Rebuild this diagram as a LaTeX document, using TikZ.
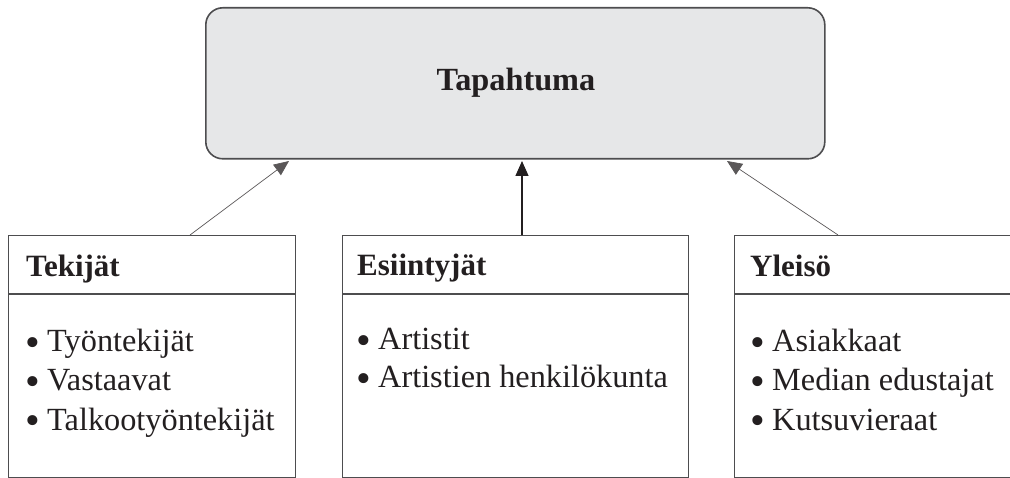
\documentclass[tikz,border=0pt]{standalone}
\usepackage{fontspec}
\setmainfont{Liberation Serif}
\usetikzlibrary{arrows.meta}
\definecolor{ink}{HTML}{231F20}
\definecolor{panel}{HTML}{E6E7E8}
\definecolor{rim}{HTML}{4D4D4F}
% enlarged list bullet followed by the gap before the item text
\newcommand\itemdot{\makebox[22pt][l]{\smash{\raisebox{-4.5pt}{\fontsize{42}{42}\selectfont •}}}}
\begin{document}
\begin{tikzpicture}[x=1pt,y=-1pt,
  eventbox/.style={draw=rim,line width=1.6pt,fill=panel,rounded corners=17pt,
    minimum width=619pt,minimum height=151pt,anchor=north west,inner sep=0pt},
  groupbox/.style={draw=rim,line width=1.3pt,anchor=north west,inner sep=0pt,
    minimum height=242pt},
  headtxt/.style={anchor=base west,inner sep=0pt,text=ink,
    font=\fontsize{31}{37}\selectfont\bfseries},
  itemtxt/.style={anchor=base west,inner sep=0pt,text=ink,
    font=\fontsize{32.3}{38}\selectfont},
  divider/.style={draw=rim,line width=1.1pt},
  link/.style={draw=ink!75,line width=0.7pt,-{Triangle[length=15pt,width=13pt]}},
  mainlink/.style={draw=ink,line width=1.3pt,-{Triangle[length=15pt,width=13pt]}}]
\useasboundingbox (0,0) rectangle (1010,478);
\clip (0,0) rectangle (1010,478);

% central event box
\node[eventbox] (event) at (205,7) {};
\node[anchor=base,inner sep=0pt,text=ink,font=\fontsize{32.3}{38}\selectfont\bfseries]
  (eventtxt) at (516,91) {Tapahtuma};

% three stakeholder groups
\node[groupbox,minimum width=287pt] (makers) at (8,235) {};
\node[groupbox,minimum width=346pt] (perf) at (342,235) {};
\node[groupbox,minimum width=300pt] (aud) at (734,235) {};

\draw[divider] (8,294) -- (295,294);
\draw[divider] (342,294) -- (688,294);
\draw[divider] (734,294) -- (1034,294);

\node[headtxt] (makershead) at (26,277) {Tekijät};
\node[headtxt] (perfhead) at (357,276) {Esiintyjät};
\node[headtxt] (audhead) at (750,277) {Yleisö};

\node[itemtxt] (m1) at (25,352) {\itemdot Työntekijät};
\node[itemtxt] (m2) at (25,391) {\itemdot Vastaavat};
\node[itemtxt] (m3) at (25,430) {\itemdot Talkootyöntekijät};

\node[itemtxt] (p1) at (356,350) {\itemdot Artistit};
\node[itemtxt] (p2) at (356,388) {\itemdot Artistien henkilökunta};

\node[itemtxt] (a1) at (750,352) {\itemdot Asiakkaat};
\node[itemtxt] (a2) at (750,391) {\itemdot Median edustajat};
\node[itemtxt] (a3) at (750,430) {\itemdot Kutsuvieraat};

% connectors into the event box
\coordinate (makersout) at (190,235);
\coordinate (perfout) at (522,235);
\coordinate (audout) at (838,235);
\coordinate (makersin) at (289,161);
\coordinate (perfin) at (522,161);
\coordinate (audin) at (727,161);
\draw[link] (makersout) -- (makersin);
\draw[mainlink] (perfout) -- (perfin);
\draw[link] (audout) -- (audin);
\end{tikzpicture}
\end{document}
